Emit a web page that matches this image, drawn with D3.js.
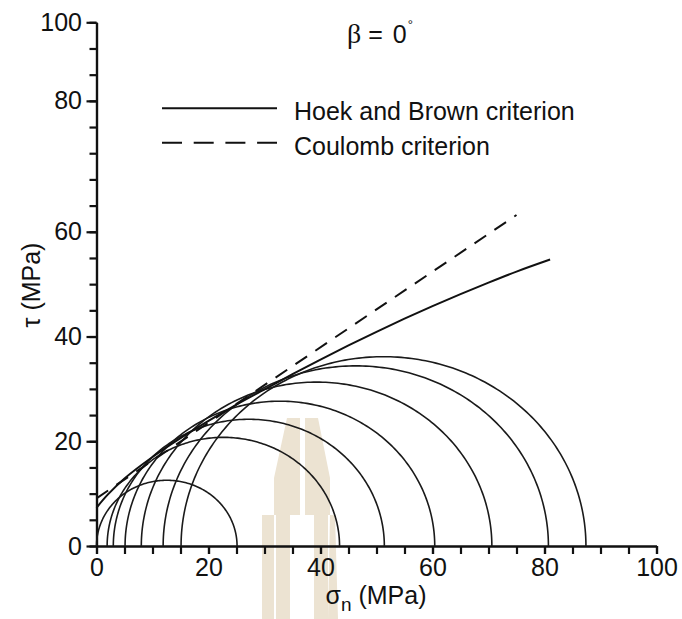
<!DOCTYPE html>
<html><head><meta charset="utf-8">
<script src="https://cdn.jsdelivr.net/npm/d3@7"></script>
<style>
body{margin:0;background:#fff}
svg{display:block}
text{font-family:"Liberation Sans",Arial,Helvetica,sans-serif;fill:#111}
</style>
</head><body>
<svg id="chart" width="682" height="619"></svg>
<script>
// Mohr circles: minor / major principal stress at failure (MPa)
const sigma3 = [0, 1.9, 3.0, 5.1, 8.0, 11.9, 15.1];
const sigma1 = [25.1, 43.4, 51.4, 60.4, 70.6, 80.7, 87.4];

// Hoek and Brown failure envelope (normal stress, shear stress)
const hbSigmaN = [0, 2, 5, 10, 15, 20, 25, 30, 35, 40, 45, 50, 55, 60, 65, 70, 75, 81];
const hbTau    = [7.3, 9.8, 12.9, 17.0, 20.6, 23.9, 27.0, 29.9, 32.8, 35.6, 38.3, 40.9, 43.4, 45.8, 48.1, 50.3, 52.4, 54.7];

// Coulomb failure envelope
const coulombSigmaN = [0, 75];
const coulombTau    = [9.1, 63.2];

// Axis ticks and labels
const xMajorTicks = [0, 20, 40, 60, 80, 100];
const xMinorTicks = d3.range(0, 101, 5);
const yMinorTicks = d3.range(0, 101, 5);
const yLabelTicks = [0, 20, 40, 60, 85, 100];
const yTickLabels = ["0", "20", "40", "60", "80", "100"];

const legendItems = ["Hoek and Brown criterion", "Coulomb criterion"];

const svg = d3.select("#chart");
const x = d3.scaleLinear().domain([0, 100]).range([96.5, 656.5]);
const y = d3.scaleLinear().domain([0, 100]).range([546, 22.3]);

// faint background watermark
const wm = svg.append("g").attr("transform", "translate(302,418)").attr("fill", "#ece3d2");
const wmShapes = [
  [[-15,0],[-2,0],[-2,34],[-2,97],[-12,97],[-12,201],[-26,201],[-26,97],[-28,97],[-28,60]],
  [[3,0],[16,0],[28,60],[28,97],[26,97],[26,201],[12,201],[12,97],[3,97]],
  [[-40,97],[-28,97],[-28,201],[-40,201]],
  [[28,97],[33,97],[36,201],[26,201]]
];
wm.selectAll("polygon").data(wmShapes).join("polygon")
  .attr("points", d => d.map(p => p.join(",")).join(" "));

// axes
const xMinor = svg.append("g").attr("transform", `translate(0,${y(0)})`)
  .call(d3.axisBottom(x).tickValues(xMinorTicks).tickSize(8).tickSizeOuter(0).tickFormat(""));
const xMajor = svg.append("g").attr("transform", `translate(0,${y(0)})`)
  .call(d3.axisBottom(x).tickValues(xMajorTicks).tickSize(8).tickSizeOuter(0).tickPadding(4.3));
const yMinor = svg.append("g").attr("transform", `translate(${x(0)},0)`)
  .call(d3.axisLeft(y).tickValues(yMinorTicks).tickSize(7).tickSizeOuter(0).tickFormat(""));
const yMajor = svg.append("g").attr("transform", `translate(${x(0)},0)`)
  .call(d3.axisLeft(y).tickValues(yLabelTicks).tickSize(10).tickSizeOuter(0).tickPadding(4.5)
    .tickFormat((d, i) => yTickLabels[i]));

[xMinor, xMajor, yMinor, yMajor].forEach(g => {
  g.selectAll("path.domain").attr("stroke", "#111").attr("stroke-width", 2.2);
  g.selectAll(".tick line").attr("stroke", "#111").attr("stroke-width", 2.2);
  g.selectAll(".tick text").attr("font-size", 25).attr("fill", "#111")
    .style("font-family", '"Liberation Sans",Arial,sans-serif');
});

// Mohr circles (upper half)
const angles = d3.range(0, 180.5, 1);
const circlePath = d3.line().x(d => x(d[0])).y(d => y(d[1]));
const circles = sigma3.map((s3, i) => {
  const c = (s3 + sigma1[i]) / 2, r = (sigma1[i] - s3) / 2;
  return angles.map(a => [c + r * Math.cos(a * Math.PI / 180), r * Math.sin(a * Math.PI / 180)]);
});
svg.append("g").selectAll("path").data(circles).join("path")
  .attr("d", circlePath).attr("fill", "none").attr("stroke", "#1a1a1a").attr("stroke-width", 1.6);

// Hoek and Brown envelope
const hbLine = d3.line().x(d => x(d[0])).y(d => y(d[1])).curve(d3.curveCatmullRom);
svg.append("path").datum(hbSigmaN.map((s, i) => [s, hbTau[i]]))
  .attr("d", hbLine).attr("fill", "none").attr("stroke", "#111").attr("stroke-width", 2);

// Coulomb envelope
svg.append("path").datum(coulombSigmaN.map((s, i) => [s, coulombTau[i]]))
  .attr("d", d3.line().x(d => x(d[0])).y(d => y(d[1])))
  .attr("fill", "none").attr("stroke", "#111").attr("stroke-width", 2).attr("stroke-dasharray", "14,10");

// legend
const legend = svg.append("g");
legendItems.forEach((label, i) => {
  const ly = 108.3 + i * 34.4;
  legend.append("line").attr("x1", 162).attr("x2", 277).attr("y1", ly).attr("y2", ly)
    .attr("stroke", "#111").attr("stroke-width", 2)
    .attr("stroke-dasharray", i === 1 ? "20,11.7" : null);
  legend.append("text").attr("x", 294).attr("y", ly + 11.8).attr("font-size", 25).text(label);
});

// title
const title = svg.append("text").attr("x", 347).attr("y", 43).attr("font-size", 25);
title.append("tspan").attr("font-size", 28).style("font-family", '"Liberation Serif","Times New Roman",serif').text("β");
title.append("tspan").text(" = ");
title.append("tspan").attr("dx", 3).text("0");
title.append("tspan").attr("font-size", 13).attr("dx", 1).attr("dy", -14).text("°");

// axis titles
const xt = svg.append("text").attr("x", 376).attr("y", 604).attr("text-anchor", "middle").attr("font-size", 25);
xt.append("tspan").text("σ");
xt.append("tspan").attr("font-size", 19).attr("dy", 7).text("n");
xt.append("tspan").attr("dy", -7).text(" (MPa)");

svg.append("text").attr("transform", "translate(39.5,285) rotate(-90)")
  .attr("text-anchor", "middle").attr("font-size", 25).text("τ (MPa)");
</script>
</body></html>
